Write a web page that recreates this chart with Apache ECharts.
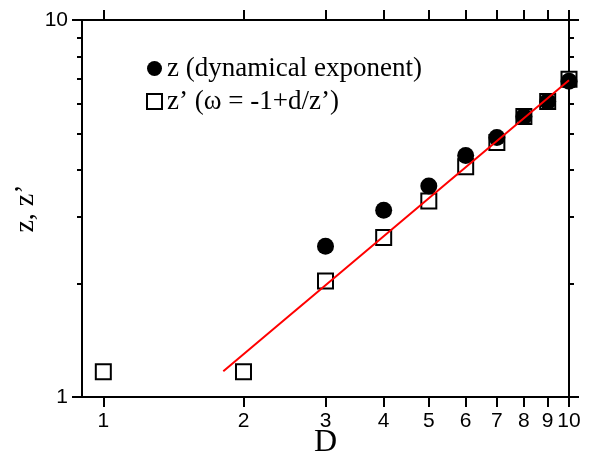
<!DOCTYPE html>
<html>
<head>
<meta charset="utf-8">
<script src="https://cdn.jsdelivr.net/npm/echarts@6/dist/echarts.min.js"></script>
<style>
  html, body { margin: 0; padding: 0; background: #fff; }
  #chart { width: 590px; height: 460px; }
</style>
</head>
<body>
<div id="chart"></div>
<script>
// values
const dimsZ = [3, 4, 5, 6, 7, 8, 9, 10]
const zValues = [2.51, 3.13, 3.63, 4.37, 4.88, 5.55, 6.08, 6.88]
const dimsZp = [1, 2, 3, 4, 5, 6, 7, 8, 9, 10]
const zpValues = [1.166, 1.166, 2.03, 2.65, 3.31, 4.08, 4.73, 5.55, 6.08, 6.96]
const fitDims = [1.81, 10]
const fitValues = [1.17, 6.92]
const xTicks = [1, 2, 3, 4, 5, 6, 7, 8, 9, 10]
const yMajorTicks = [1, 10]
const yMinorTicks = [2, 3, 4, 5, 6, 7, 8, 9]

const nameZ = 'z (dynamical exponent)'
const nameZp = 'z\u2019 (\u03c9 = -1+d/z\u2019)'

const pairs = (xs, ys) => xs.map((x, i) => [x, ys[i]])

const lineStyle = { color: '#000', width: 2 }
const labelFont = { fontFamily: 'Liberation Sans', fontSize: 21, color: '#000' }
const serif = 'Liberation Serif'

function xAxisOf(position, showLabel) {
  return {
    type: 'log',
    position: position,
    min: 0.9,
    max: 10,
    axisLine: { show: true, onZero: false, lineStyle: lineStyle },
    axisTick: { show: true, inside: false, length: 10, lineStyle: lineStyle, customValues: xTicks },
    axisLabel: { show: showLabel, margin: 14, customValues: xTicks, formatter: v => String(Math.round(v)), ...labelFont },
    splitLine: { show: false },
    minorTick: { show: false }
  }
}

function yAxisOf(position, ticks, len, showLabel) {
  return {
    type: 'log',
    position: position,
    min: 1,
    max: 10,
    axisLine: { show: true, onZero: false, lineStyle: lineStyle },
    axisTick: { show: true, inside: false, length: len, lineStyle: lineStyle, customValues: ticks },
    axisLabel: { show: showLabel, margin: 14, customValues: ticks, formatter: v => String(Math.round(v)), ...labelFont },
    splitLine: { show: false },
    minorTick: { show: false }
  }
}

const chart = echarts.init(document.getElementById('chart'))
const bottomAxis = xAxisOf('bottom', true)
bottomAxis.name = 'D'
bottomAxis.nameLocation = 'middle'
bottomAxis.nameGap = 30
bottomAxis.nameMoveOverlap = false
bottomAxis.nameTextStyle = { fontFamily: serif, fontSize: 32, color: '#000' }

const leftAxis = yAxisOf('left', yMajorTicks, 10, true)
leftAxis.name = 'z, z\u2019'
leftAxis.nameLocation = 'middle'
leftAxis.nameGap = 42
leftAxis.nameMoveOverlap = false
leftAxis.nameTextStyle = { fontFamily: serif, fontSize: 28, color: '#000' }

const option = {
  animation: false,
  backgroundColor: '#fff',
  grid: { left: 82, right: 21, top: 20, bottom: 63, containLabel: false, outerBoundsMode: 'none' },
  legend: {
    data: [nameZ, nameZp],
    orient: 'vertical',
    left: 141,
    top: 50,
    itemWidth: 15,
    itemHeight: 15,
    itemGap: 6,
    textStyle: { fontFamily: serif, fontSize: 27, lineHeight: 27, color: '#000' }
  },
  xAxis: [bottomAxis, xAxisOf('top', false)],
  yAxis: [
    leftAxis,
    yAxisOf('left', yMinorTicks, 5, false),
    yAxisOf('right', yMajorTicks, 10, false),
    yAxisOf('right', yMinorTicks, 5, false)
  ],
  series: [
    {
      name: nameZp,
      type: 'scatter',
      symbol: 'rect',
      symbolSize: 15,
      z: 2,
      itemStyle: { color: '#fff', borderColor: '#000', borderWidth: 2, opacity: 1 },
      data: pairs(dimsZp, zpValues)
    },
    {
      name: nameZ,
      type: 'scatter',
      symbol: 'circle',
      symbolSize: 17,
      z: 3,
      itemStyle: { color: '#000', opacity: 1 },
      data: pairs(dimsZ, zValues)
    },
    {
      name: 'fit',
      type: 'line',
      symbol: 'none',
      z: 4,
      lineStyle: { color: '#ff0000', width: 2 },
      data: pairs(fitDims, fitValues)
    }
  ]
}
chart.setOption(option)
</script>
</body>
</html>
